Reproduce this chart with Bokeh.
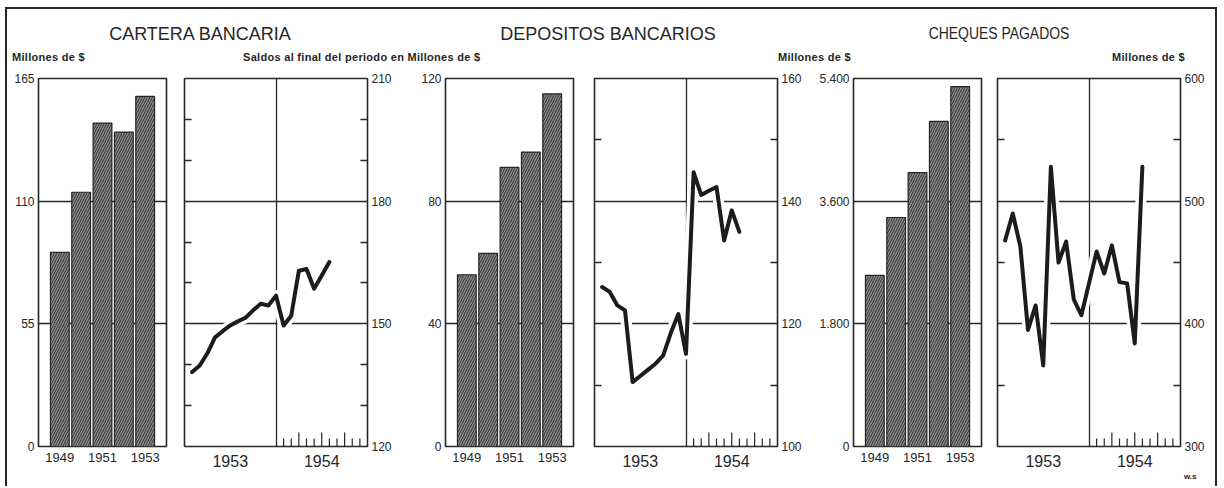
from bokeh.plotting import figure
from bokeh.models import Range1d, LinearAxis, FixedTicker, Div, Title
from bokeh.layouts import row, column
from bokeh.embed import file_html
from bokeh.resources import INLINE

# ---------------- data ----------------
anios = [1949, 1950, 1951, 1952, 1953]
anios_rotulo = [1949, 1951, 1953]
cartera_anual = [87, 114, 145, 141, 157]
depositos_anual = [56, 63, 91, 96, 115]
cheques_anual = [2510, 3360, 4020, 4770, 5280]

# monthly values, end of month: Jan 1953 ... Jul 1954
meses = list(range(1, 20))
cartera_mensual = [138.2, 139.8, 142.8, 146.7, 148.2, 149.6, 150.6, 151.5, 153.3, 154.9,
                   154.5, 156.9, 149.6, 152.0, 163.0, 163.4, 158.6, 161.8, 165.1]
depositos_mensual = [126.0, 125.2, 123.0, 122.2, 110.5, 111.5, 112.5, 113.5, 114.8, 118.5,
                     121.6, 115.1, 144.7, 141.0, 141.7, 142.3, 133.6, 138.5, 135.0]
cheques_mensual = [468, 490, 463, 395, 415, 366, 528, 450, 467, 420,
                   407, 433, 459, 441, 464, 434, 433, 384, 528]

cartera_ticks = [0, 55, 110, 165]
cartera_m_ticks = [120, 150, 180, 210]
depositos_ticks = [0, 40, 80, 120]
depositos_m_ticks = [100, 120, 140, 160]
cheques_ticks = [0, 1800, 3600, 5400]
cheques_rotulos = ["0", "1.800", "3.600", "5.400"]
cheques_m_ticks = [300, 400, 500, 600]
anios_m = ["1953", "1954"]

INK = "#262626"
FONT = "Liberation Sans"

FRAME_H = 368
TOP = 10
BOTTOM = 40


def bar_panel(values, ticks, bl, br, labels=None):
    p = figure(frame_width=128, frame_height=FRAME_H,
               min_border_left=bl, min_border_right=br,
               min_border_top=TOP, min_border_bottom=BOTTOM,
               x_range=Range1d(1948, 1954), y_range=Range1d(ticks[0], ticks[-1]),
               output_backend="svg", toolbar_location=None,
               background_fill_color="white", border_fill_color="white")
    p.vbar(x=anios, top=values, bottom=ticks[0], width=0.88,
           fill_color="#8a8a8a", hatch_pattern="/", hatch_color="#333333",
           hatch_scale=5, hatch_weight=1.0,
           line_color=INK, line_width=1.2)
    ya = p.yaxis[0]
    ya.ticker = FixedTicker(ticks=ticks, minor_ticks=[])
    if labels:
        ya.major_label_overrides = {t: s for t, s in zip(ticks, labels)}
    ya.major_tick_in = 0
    ya.major_tick_out = 0
    ya.minor_tick_in = 0
    ya.minor_tick_out = 0
    ya.axis_line_color = None
    ya.major_label_standoff = 4
    ya.major_label_text_font = FONT
    ya.major_label_text_font_size = "12px"
    ya.major_label_text_color = INK
    xa = p.xaxis[0]
    xa.ticker = FixedTicker(ticks=anios_rotulo, minor_ticks=[])
    xa.major_tick_in = 0
    xa.major_tick_out = 0
    xa.minor_tick_in = 0
    xa.minor_tick_out = 0
    xa.axis_line_color = None
    xa.major_label_standoff = 6
    xa.major_label_text_font = FONT
    xa.major_label_text_font_size = "13px"
    xa.major_label_text_color = INK
    p.xgrid.grid_line_color = None
    p.ygrid.ticker = FixedTicker(ticks=ticks[1:-1])
    p.ygrid.grid_line_color = INK
    p.ygrid.grid_line_width = 1.3
    p.outline_line_color = INK
    p.outline_line_width = 1.6
    p.outline_line_alpha = 1
    return p


def line_panel(values, ticks, minor_step, bl, br):
    y0, y1 = ticks[0], ticks[-1]
    p = figure(frame_width=183, frame_height=FRAME_H,
               min_border_left=bl, min_border_right=br,
               min_border_top=TOP, min_border_bottom=BOTTOM,
               x_range=Range1d(0, 24), y_range=Range1d(y0, y1),
               y_axis_location="right",
               output_backend="svg", toolbar_location=None,
               background_fill_color="white", border_fill_color="white")
    minors = [v for v in range(y0, y1 + 1, minor_step) if v not in ticks]
    ya = p.yaxis[0]
    ya.ticker = FixedTicker(ticks=ticks, minor_ticks=minors)
    ya.major_tick_in = 0
    ya.major_tick_out = 0
    ya.minor_tick_in = 7
    ya.minor_tick_out = 0
    ya.minor_tick_line_color = INK
    ya.minor_tick_line_width = 1.3
    ya.axis_line_color = None
    ya.major_label_standoff = 4
    ya.major_label_text_font = FONT
    ya.major_label_text_font_size = "12px"
    ya.major_label_text_color = INK
    # left side: only the inner minor tick marks, no labels
    la = LinearAxis(ticker=FixedTicker(ticks=[], minor_ticks=minors))
    la.major_tick_in = 0
    la.major_tick_out = 0
    la.minor_tick_in = 7
    la.minor_tick_out = 0
    la.minor_tick_line_color = INK
    la.minor_tick_line_width = 1.3
    la.axis_line_color = None
    la.major_label_standoff = 0
    p.add_layout(la, "left")

    xa = p.xaxis[0]
    xa.ticker = FixedTicker(ticks=[6, 18], minor_ticks=[])
    xa.major_label_overrides = {6: anios_m[0], 18: anios_m[1]}
    xa.major_tick_in = 0
    xa.major_tick_out = 0
    xa.minor_tick_in = 0
    xa.minor_tick_out = 0
    xa.axis_line_color = None
    xa.major_label_standoff = 8
    xa.major_label_text_font = FONT
    xa.major_label_text_font_size = "16px"
    xa.major_label_text_color = INK

    p.xgrid.ticker = FixedTicker(ticks=[12])
    p.xgrid.grid_line_color = INK
    p.xgrid.grid_line_width = 1.3
    p.ygrid.ticker = FixedTicker(ticks=ticks[1:-1])
    p.ygrid.grid_line_color = INK
    p.ygrid.grid_line_width = 1.3

    # monthly tick marks along the 1954 half of the base line
    per_px = (y1 - y0) / FRAME_H
    tx = list(range(13, 24))
    th = [y0 + (14 if m % 3 == 0 else 8) * per_px for m in tx]
    p.segment(x0=tx, y0=[y0] * len(tx), x1=tx, y1=th, line_color=INK, line_width=1.2)

    p.line(meses, values, line_color="white", line_width=11, line_join="round", line_cap="round")
    p.line(meses, values, line_color="#1c1c1c", line_width=4, line_join="round", line_cap="round")
    p.outline_line_color = INK
    p.outline_line_width = 1.6
    p.outline_line_alpha = 1
    return p


p1 = bar_panel(cartera_anual, cartera_ticks, 31, 9)
p2 = line_panel(cartera_mensual, cartera_m_ticks, 10, 9, 43)
p3 = bar_panel(depositos_anual, depositos_ticks, 35, 9)
p4 = line_panel(depositos_mensual, depositos_m_ticks, 10, 12, 28)
p5 = bar_panel(cheques_anual, cheques_ticks, 48, 9, labels=cheques_rotulos)
p6 = line_panel(cheques_mensual, cheques_m_ticks, 50, 7, 35)

p6.add_layout(Title(text="w.s", align="right", offset=-16, standoff=0,
                    text_font=FONT, text_font_size="8px", text_font_style="bold",
                    text_color=INK), "below")


def span(txt, left, top, size, weight="normal", anchor="left", extra=""):
    if anchor == "center":
        tr = "transform:translateX(-50%);"
    elif anchor == "right":
        tr = "transform:translateX(-100%);"
    else:
        tr = ""
    return (f'<span style="position:absolute;left:{left}px;top:{top}px;font-size:{size}px;'
            f'font-weight:{weight};line-height:{size}px;white-space:nowrap;{tr}{extra}">{txt}</span>')


SUB = "letter-spacing:0.3px;"
header_html = (
    f'<div style="position:relative;width:1208px;height:59px;font-family:\'{FONT}\',sans-serif;color:{INK}">'
    + span("CARTERA BANCARIA", 193, 16, 18, anchor="center")
    + span("DEPOSITOS BANCARIOS", 601, 16, 18, anchor="center")
    + '<span style="position:absolute;left:992px;top:16px;font-size:17px;line-height:17px;'
      'white-space:nowrap;transform:translateX(-50%) scaleX(0.82);">CHEQUES PAGADOS</span>'
    + span("Millones de $", 5, 43, 11, "bold", extra=SUB)
    + span("Saldos al final del periodo en Millones de $", 236, 43, 11, "bold", extra=SUB)
    + span("Millones de $", 771, 43, 11, "bold", extra=SUB)
    + span("Millones de $", 1178, 43, 11, "bold", anchor="right", extra=SUB)
    + '</div>'
)
header = Div(text=header_html, width=1208, height=59, margin=0)

charts = row(p1, p2, p3, p4, p5, p6, spacing=0)
page = column(header, charts, spacing=0, margin=(7, 0, 0, 5),
              styles={"border-top": f"2px solid {INK}", "border-left": f"2px solid {INK}",
                      "border-right": f"2px solid {INK}", "background": "white"})

open("out.html", "w").write(file_html(page, INLINE))
